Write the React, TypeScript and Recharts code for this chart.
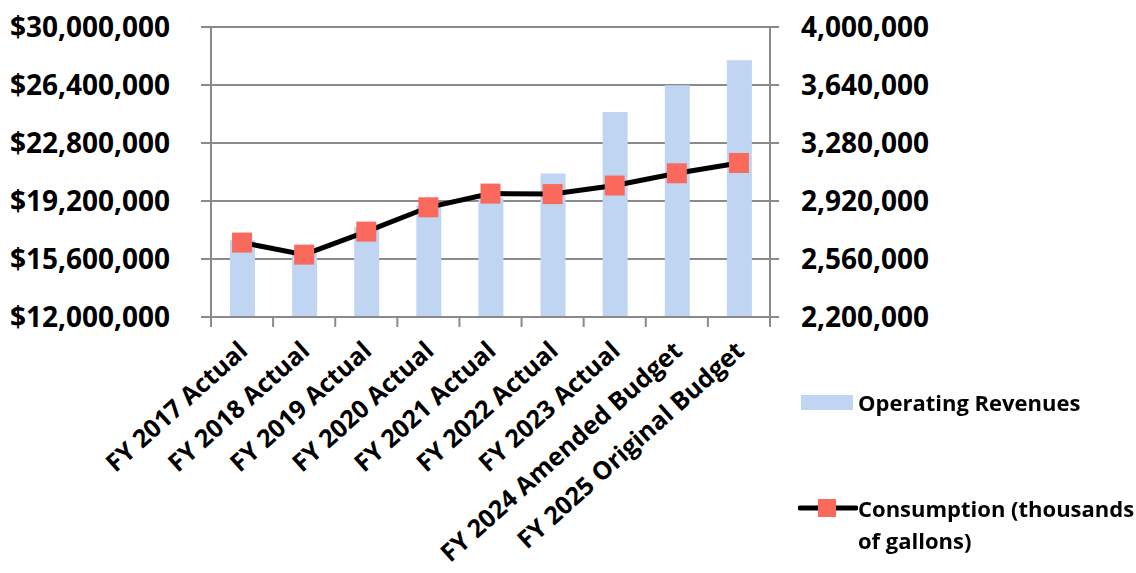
import React from "react"
import {
    ComposedChart,
    Bar,
    Line,
    XAxis,
    YAxis,
    CartesianGrid
} from "recharts"

const categories = [
    "FY 2017 Actual",
    "FY 2018 Actual",
    "FY 2019 Actual",
    "FY 2020 Actual",
    "FY 2021 Actual",
    "FY 2022 Actual",
    "FY 2023 Actual",
    "FY 2024 Amended Budget",
    "FY 2025 Original Budget"
]

const operatingRevenues = [
    16760000, 15950000, 17590000, 18930000, 19400000, 20900000, 24720000, 26380000, 27930000
]

const consumption = [
    2662000, 2587000, 2730000, 2881000, 2966000, 2963000, 3016000, 3092000, 3156000
]

const revenueTicks = [12000000, 15600000, 19200000, 22800000, 26400000, 30000000]
const consumptionTicks = [2200000, 2560000, 2920000, 3280000, 3640000, 4000000]

const data = categories.map((name, i) => ({
    name,
    revenue: operatingRevenues[i],
    consumption: consumption[i]
}))

const FONT = "'Open Sans', Lato, sans-serif"
const GRID = "#8a8a8a"
const BAR = "#BFD5F2"
const MARKER = "#FA6A5C"

const fmt = (v: number) => v.toLocaleString("en-US")

function XTick(props: any) {
    const { x, y, payload } = props
    const half = payload && payload.offset ? payload.offset : 31
    const last = payload.index === categories.length - 1
    return (
        <g>
            <line x1={x - half} x2={x - half} y1={y} y2={y + 10} stroke={GRID} strokeWidth={2} />
            {last && <line x1={x + half} x2={x + half} y1={y} y2={y + 10} stroke={GRID} strokeWidth={2} />}
            <text
                x={0}
                y={0}
                transform={`translate(${x + 7}, ${y + 36}) rotate(-42)`}
                textAnchor="end"
                fontFamily={FONT}
                fontWeight="bold"
                fontSize={25}
                fill="#000"
            >
                {payload.value}
            </text>
        </g>
    )
}

function SquareDot(props: any) {
    const { cx, cy } = props
    if (cx == null || cy == null) return null
    return <rect x={cx - 10} y={cy - 10} width={20} height={20} fill={MARKER} />
}

export default function App() {
    return (
        <div style={{ position: "fixed", left: 0, top: 0, width: 1136, height: 573, background: "#fff" }}>
            <ComposedChart
                width={1136}
                height={573}
                data={data}
                margin={{ top: 27, right: 156, left: 0, bottom: 0 }}
            >
                <CartesianGrid yAxisId="left" vertical={false} stroke={GRID} strokeWidth={2} />
                <XAxis
                    dataKey="name"
                    interval={0}
                    height={256}
                    tickSize={0}
                    tickMargin={0}
                    tickLine={false}
                    axisLine={{ stroke: GRID, strokeWidth: 2 }}
                    tick={<XTick />}
                />
                <YAxis
                    yAxisId="left"
                    width={211}
                    domain={[12000000, 30000000]}
                    ticks={revenueTicks}
                    interval={0}
                    tickFormatter={(v) => `$${fmt(v)}`}
                    tickSize={10}
                    tickMargin={31}
                    tickLine={{ stroke: GRID, strokeWidth: 2 }}
                    axisLine={{ stroke: GRID, strokeWidth: 2 }}
                    tick={{ fontFamily: FONT, fontWeight: "bold", fontSize: 28, fill: "#000" }}
                />
                <YAxis
                    yAxisId="right"
                    orientation="right"
                    width={210}
                    domain={[2200000, 4000000]}
                    ticks={consumptionTicks}
                    interval={0}
                    tickFormatter={(v) => fmt(v)}
                    tickSize={9}
                    tickMargin={22}
                    tickLine={{ stroke: GRID, strokeWidth: 2 }}
                    axisLine={{ stroke: GRID, strokeWidth: 2 }}
                    tick={{ fontFamily: FONT, fontWeight: "bold", fontSize: 28, fill: "#000" }}
                />
                <Bar
                    yAxisId="left"
                    dataKey="revenue"
                    fill={BAR}
                    barSize={25}
                    isAnimationActive={false}
                />
                <Line
                    yAxisId="right"
                    dataKey="consumption"
                    type="linear"
                    stroke="#000"
                    strokeWidth={5}
                    dot={<SquareDot />}
                    activeDot={false}
                    isAnimationActive={false}
                />
            </ComposedChart>
            <div
                style={{
                    position: "absolute",
                    left: 798,
                    top: 386,
                    fontFamily: FONT,
                    fontWeight: "bold",
                    fontSize: 22,
                    color: "#000",
                    lineHeight: "32px"
                }}
            >
                <div style={{ display: "flex", alignItems: "center" }}>
                    <div style={{ width: 52, height: 15, background: BAR, marginLeft: 3, marginRight: 5 }} />
                    <span>Operating Revenues</span>
                </div>
                <div style={{ display: "flex", alignItems: "flex-start", marginTop: 74 }}>
                    <svg width={60} height={32} style={{ flex: "none" }}>
                        <line x1={2} x2={58} y1={16} y2={16} stroke="#000" strokeWidth={5} strokeLinecap="round" />
                        <rect x={20} y={7} width={18} height={18} fill={MARKER} />
                    </svg>
                    <span style={{ width: 280 }}>Consumption (thousands of gallons)</span>
                </div>
            </div>
        </div>
    )
}
